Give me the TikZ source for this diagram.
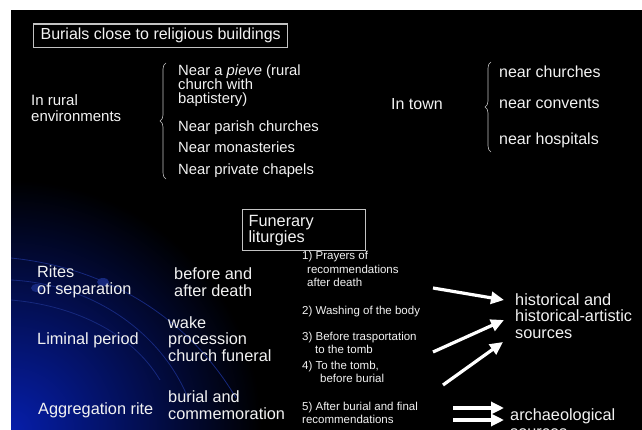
\documentclass[tikz,border=0pt]{standalone}
\usepackage{fontspec}
\setmainfont{Liberation Sans}
\usepackage{xcolor}
\usepackage{tikz}
\usetikzlibrary{arrows.meta}
\usetikzlibrary{decorations.pathreplacing}

\definecolor{slidetext}{RGB}{242,242,242}
\definecolor{slideblue}{RGB}{6,30,170}
\definecolor{arcblue}{RGB}{22,40,125}
\definecolor{boxgray}{RGB}{195,195,195}

\begin{document}
\begin{tikzpicture}[x=1pt,y=-1pt,
    txt/.style={anchor=base west,inner sep=0pt,align=left,text=slidetext},
    big/.style={font=\fontsize{16.3}{16.5}\selectfont},
    mid/.style={font=\fontsize{15}{15.5}\selectfont},
    near/.style={font=\fontsize{14.8}{14.2}\selectfont},
    small/.style={font=\fontsize{11.5}{13}\selectfont},
    titlebox/.style={draw=boxgray,line width=1.2pt,text=slidetext},
    curly/.style={draw=boxgray,line width=0.6pt,decorate,decoration={brace,amplitude=6pt}},
    bigarrow/.style={draw=white,line width=3.2pt,-{Triangle[length=13pt,width=12pt]}},
    arcline/.style={draw=arcblue,line width=0.8pt}]

    % slide background
    \useasboundingbox[fill=white] (0,0) rectangle (642,430);
    \fill[black] (11,10) rectangle (642,430);
    \begin{scope}
    \clip (11,10) rectangle (642,430);
    \shade[inner color=slideblue,outer color=black] (11,430) circle (250pt);
    \draw[arcline] (11,258) .. controls (110,268) and (190,320) .. (236,398);
    \draw[arcline] (11,280) .. controls (90,284) and (160,330) .. (188,398);
    \draw[arcline] (11,300) .. controls (70,305) and (130,330) .. (160,380);
    \fill[arcblue] (103,282) ellipse (6pt and 4pt);
    \fill[arcblue] (37,288) ellipse (6pt and 4pt);
    \end{scope}

    % burials close to religious buildings
    \node[titlebox,anchor=base west,inner xsep=7pt,inner ysep=4.5pt,font=\fontsize{16}{16}\selectfont] at (33,40) (burials) {Burials close to religious buildings};

    \node[txt,mid] at (31,121.5) (rural) {In rural\\environments};
    \node[txt,near] at (178,103.5) (pieve) {Near a \textit{pieve} (rural\\church with\\baptistery)};
    \node[txt,near] at (178,132) (parish) {Near parish churches};
    \node[txt,near] at (178,153) (monast) {Near monasteries};
    \node[txt,near] at (178,175) (chapels) {Near private chapels};
    \draw[curly] (166,179) -- (166,63);

    \node[txt,font=\fontsize{16}{16}\selectfont] at (391,110) (town) {In town};
    \node[txt,font=\fontsize{16}{16}\selectfont] at (499,78) (nchurch) {near churches};
    \node[txt,font=\fontsize{16}{16}\selectfont] at (499,109) (nconv) {near convents};
    \node[txt,font=\fontsize{16}{16}\selectfont] at (499,145) (nhosp) {near hospitals};
    \draw[curly] (491,152) -- (491,62);

    % funerary liturgies
    \node[titlebox,anchor=north west,minimum width=123pt,minimum height=41pt,text width=111pt,inner xsep=6pt,align=left,font=\fontsize{16.3}{16}\selectfont] at (242,209) (funerary) {Funerary\\liturgies};

    \node[txt,big] at (37,294) (rites) {Rites\\of separation};
    \node[txt,big] at (37,344) (liminal) {Liminal period};
    \node[txt,big] at (38,414) (aggreg) {Aggregation rite};
    \node[txt,big] at (174,296) (death) {before and\\after death};
    \node[txt,big] at (168,361) (wake) {wake\\procession\\church funeral};
    \node[txt,big] at (168,419) (burial) {burial and\\commemoration};

    \node[txt,small] at (302,286) (lit1) {1) Prayers of\\\hspace*{5pt}recommendations\\\hspace*{5pt}after death};
    \node[txt,small] at (302,314) (lit2) {2) Washing of the body};
    \node[txt,small] at (302,353) (lit3) {3) Before trasportation\\\hspace*{13pt}to the tomb};
    \node[txt,small] at (302,382) (lit4) {4) To the tomb,\\\hspace*{18pt}before burial};
    \node[txt,small] at (302,423) (lit5) {5) After burial and final\\recommendations};

    \node[txt,big] at (515,338) (hist) {historical and\\historical-artistic\\sources};
    \node[txt,big] at (510,437) (arch) {archaeological\\sources};

    \coordinate (s1) at (433,288);
    \coordinate (s2) at (433,352);
    \coordinate (s3) at (443,385);
    \coordinate (s4) at (453,408);
    \coordinate (s5) at (453,420);
    \coordinate (e1) at (504,300);
    \coordinate (e2) at (504,320);
    \coordinate (e3) at (503,342);
    \coordinate (e4) at (504,408);
    \coordinate (e5) at (504,420);

    \path (s1) edge[bigarrow] (e1)
    (s2) edge[bigarrow] (e2)
    (s3) edge[bigarrow] (e3)
    (s4) edge[bigarrow] (e4)
    (s5) edge[bigarrow] (e5);

\end{tikzpicture}
\end{document}
